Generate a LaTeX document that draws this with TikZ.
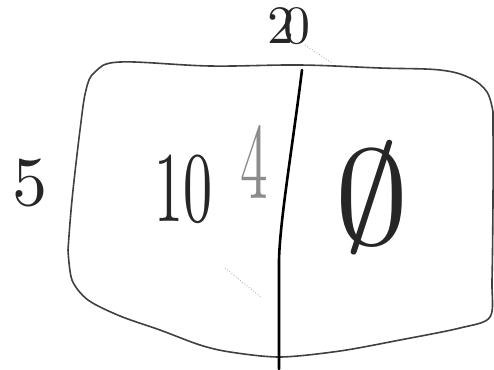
\documentclass[tikz,border=0pt]{standalone}
\usepackage{fontspec}
\usepackage{graphicx}
\begin{document}
\begin{tikzpicture}[x=1pt,y=-1pt,
  outline/.style={draw=black!75,line width=1.6pt,line cap=round,line join=round},
  divider/.style={draw=black,line width=2.6pt,line cap=round},
  faint/.style={draw=black!35,line width=0.8pt,dotted},
  hand/.style={inner sep=0pt,text=black!85}]
\useasboundingbox (0,0) rectangle (494,369);
% box outline
\draw[outline] plot[smooth,tension=0.6] coordinates {(68,250)(72,200)(80,130)(86,90)(95,72)(120,62)(210,66)(300,65)(380,68)(440,70)(470,78)(487,92)(493,112)};
\draw[outline] plot[smooth,tension=0.5] coordinates {(493,112)(493,200)(492,280)(490,317)(460,328)(400,340)(340,351)(280,357)(230,352)(200,345)(160,330)(120,316)(88,300)(72,280)(68,250)};
% divider
\draw[divider] (302,70) .. controls (292,150) and (280,220) .. (279,260) -- (279,369);
% faint marks
\draw[faint] (305,45) -- (332,63);
\draw[faint] (225,268) -- (262,298);
% labels
\node[hand] (five) at (30,183) {\scalebox{7}{5}};
\node[hand] (ten) at (183,189) {\scalebox{5.8}[10]{10}};
\node[hand,text=black!45] (four) at (254,162) {\scalebox{5.5}[10.8]{4}};
\node[hand] (empty) at (372,198) {\scalebox{15}[13.5]{$\emptyset$}};
\node[hand] (twenty) at (289,26) {\scalebox{5.4}{2\kern-2pt0}};
\end{tikzpicture}
\end{document}
